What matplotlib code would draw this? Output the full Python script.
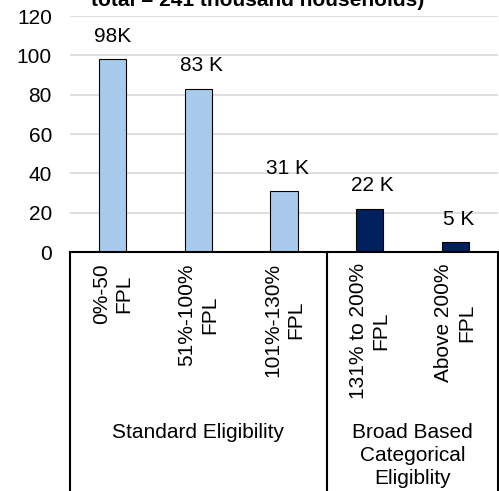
import matplotlib
matplotlib.use("Agg")
import matplotlib.pyplot as plt

plt.rcParams['font.family'] = ['Liberation Sans', 'DejaVu Sans']

categories = ["0%-50\nFPL", "51%-100%\nFPL", "101%-130%\nFPL", "131% to 200%\nFPL", "Above 200%\nFPL"]
values = [98, 83, 31, 22, 5]
value_labels = ["98K", "83 K", "31 K", "22 K", "5 K"]
groups = ["Standard Eligibility", "Broad Based\nCategorical\nEligiblity"]
group_sizes = [3, 2]
bar_colors = ["#A9CBEB", "#A9CBEB", "#A9CBEB", "#002060", "#002060"]
yticks = [0, 20, 40, 60, 80, 100, 120]
title = "total = 241 thousand households)"

FS = 15
W, H = 499, 491
fig = plt.figure(figsize=(W / 100, H / 100), dpi=100)
ax = fig.add_axes([70 / W, (H - 252) / H, (498 - 70) / W, (252 - 16) / H])

x = list(range(len(categories)))
ax.bar(x, values, width=0.32, color=bar_colors, edgecolor="black", linewidth=0.8, zorder=3)
ax.set_xlim(-0.5, len(categories) - 0.5)
ax.set_ylim(0, 120)
ax.set_yticks(yticks)
ax.set_yticklabels([str(t) for t in yticks], fontsize=FS)
ax.tick_params(axis='y', length=0, pad=13)
ax.grid(axis='y', color="#D9D9D9", linewidth=1.2, zorder=0)
for s in ["left", "right", "top"]:
    ax.spines[s].set_visible(False)
ax.spines["bottom"].set_linewidth(1.5)
ax.spines["bottom"].set_zorder(4)

ax.set_xticks(x)
ax.set_xticklabels(categories, rotation=90, ha='center', va='top', multialignment='center',
                   fontsize=FS, linespacing=1.25)
ax.tick_params(axis='x', length=0, pad=8)

for i, (v, lab) in enumerate(zip(values, value_labels)):
    dx = 0 if " " not in lab else 3
    ax.annotate(lab, (i, v), xytext=(dx, 23), textcoords='offset pixels',
                ha='center', va='center', fontsize=FS)

# group separators and labels
trans = ax.get_xaxis_transform()
ax_h = 252 - 16
bounds = [-0.5]
for g in group_sizes:
    bounds.append(bounds[-1] + g)
for b in bounds:
    ax.plot([b, b], [0, -1.2], transform=trans, color="black", linewidth=1.5, clip_on=False)

ax.text((bounds[0] + bounds[1]) / 2, -(433 - 252) / ax_h, groups[0], transform=trans,
        ha='center', va='center', fontsize=FS)
ax.text((bounds[1] + bounds[2]) / 2, -(423 - 252) / ax_h, groups[1], transform=trans,
        ha='center', va='top', fontsize=FS, multialignment='center', linespacing=1.25)

fig.text(258 / W, 1 - 6 / H, title, ha='center', va='baseline', fontsize=FS, fontweight='bold')

fig.savefig("out.png", dpi=100)
